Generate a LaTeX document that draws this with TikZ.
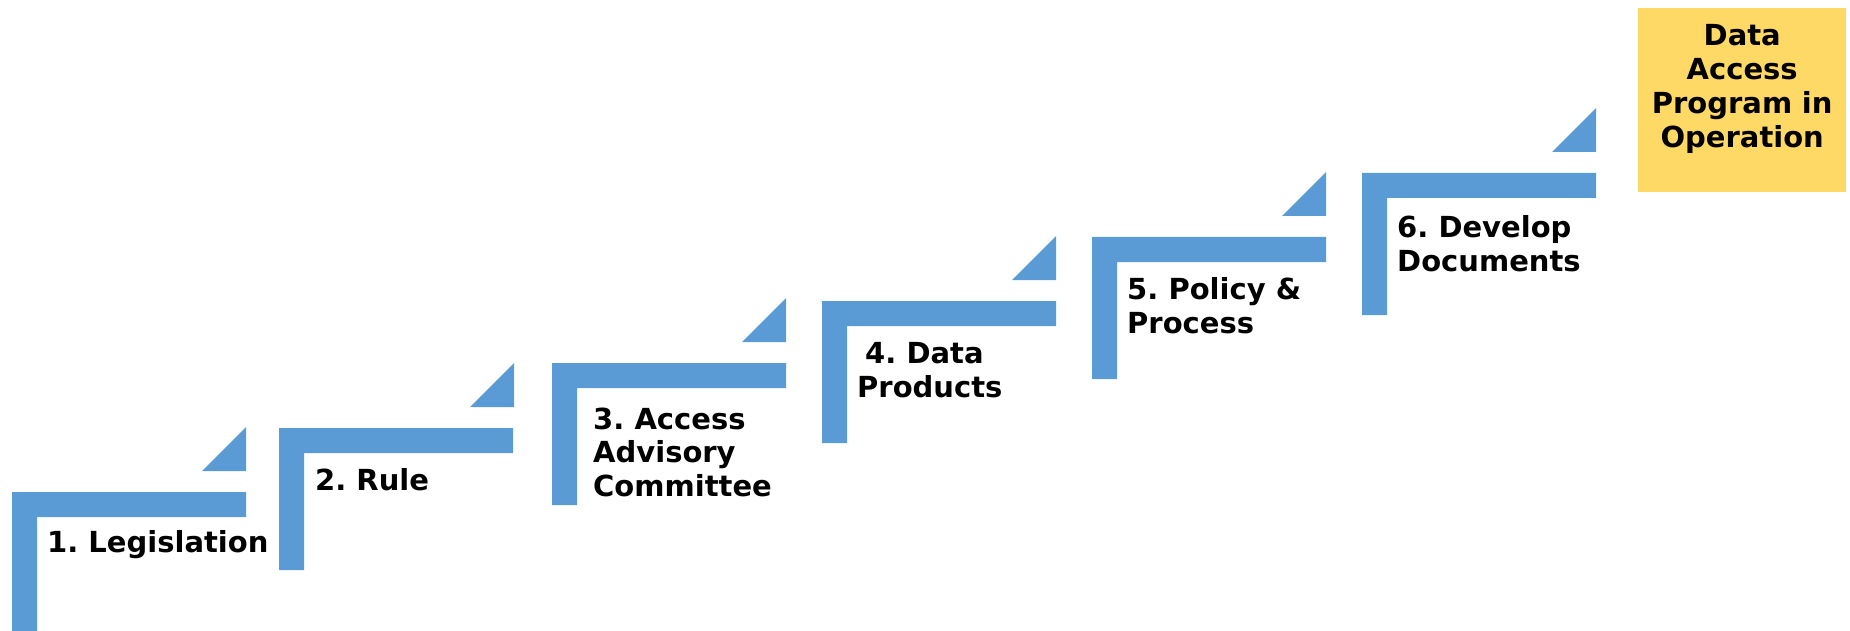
\documentclass[tikz,border=0pt]{standalone}
\usepackage{fontspec}
\setmainfont{DejaVu Sans}
\usepackage{xcolor}
\usepackage{tikz}
\definecolor{stairblue}{HTML}{5B9BD5}
\definecolor{goalyellow}{HTML}{FFD966}
\frenchspacing

\begin{document}
\begin{tikzpicture}[x=1pt, y=-1pt,
    stair/.style = {fill=stairblue},
    steplabel/.style = {anchor=base west, inner sep=0pt, align=left,
        font=\fontsize{29}{33.5}\selectfont\bfseries},
    goal/.style = {anchor=north west, fill=goalyellow, inner sep=0pt,
        minimum width=208pt, text width=208pt, align=center,
        text height=37pt, text depth=147pt,
        font=\fontsize{29}{34}\selectfont\bfseries}]
        \useasboundingbox (0,0) rectangle (1850,631);
        \clip (0,0) rectangle (1850,631);
        % stairs: bar, riser and corner wedge
        \fill[stair] (12,492) -- ++(234,0) -- ++(0,25) -- ++(-209,0) -- ++(0,117) -- ++(-25,0) -- cycle;
        \fill[stair] (202,471) -- ++(44,0) -- ++(0,-44) -- cycle;
        \fill[stair] (279,428) -- ++(234,0) -- ++(0,25) -- ++(-209,0) -- ++(0,117) -- ++(-25,0) -- cycle;
        \fill[stair] (470,407) -- ++(44,0) -- ++(0,-44) -- cycle;
        \fill[stair] (552,363) -- ++(234,0) -- ++(0,25) -- ++(-209,0) -- ++(0,117) -- ++(-25,0) -- cycle;
        \fill[stair] (742,342) -- ++(44,0) -- ++(0,-44) -- cycle;
        \fill[stair] (822,301) -- ++(234,0) -- ++(0,25) -- ++(-209,0) -- ++(0,117) -- ++(-25,0) -- cycle;
        \fill[stair] (1012,280) -- ++(44,0) -- ++(0,-44) -- cycle;
        \fill[stair] (1092,237) -- ++(234,0) -- ++(0,25) -- ++(-209,0) -- ++(0,117) -- ++(-25,0) -- cycle;
        \fill[stair] (1282,216) -- ++(44,0) -- ++(0,-44) -- cycle;
        \fill[stair] (1362,173) -- ++(234,0) -- ++(0,25) -- ++(-209,0) -- ++(0,117) -- ++(-25,0) -- cycle;
        \fill[stair] (1552,152) -- ++(44,0) -- ++(0,-44) -- cycle;
        % labels sit on the baseline of their last line
        \node[steplabel] (legislation) at (47,552) {1. Legislation};
        \node[steplabel] (rule) at (315,490) {2. Rule};
        \node[steplabel] (committee) at (593,496) {3. Access\\Advisory\\Committee};
        \node[steplabel] (products) at (857,397) {\hspace{8pt}4. Data\\Products};
        \node[steplabel] (policy) at (1127,333) {5. Policy \&\\Process};
        \node[steplabel] (documents) at (1397,271) {6. Develop\\Documents};
        \node[goal] (operation) at (1638,8) {Data\\Access\\Program in\\Operation};
\end{tikzpicture}
\end{document}
